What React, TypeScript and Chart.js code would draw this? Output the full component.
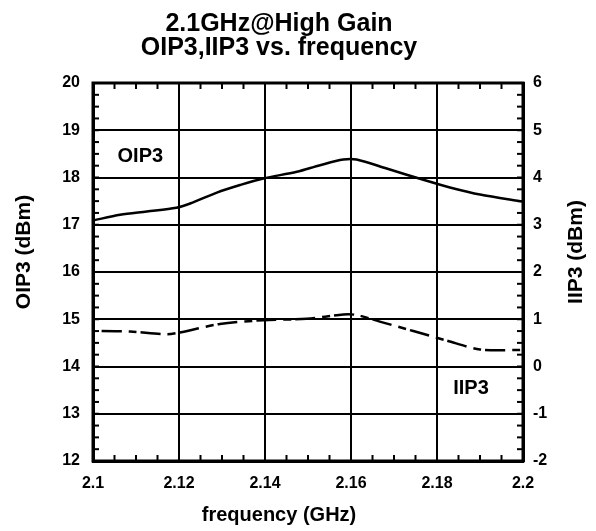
import React, { useEffect, useRef } from "react";
import { Chart, registerables } from "chart.js";

Chart.register(...registerables);

const FONT = "'Liberation Sans', Arial, Helvetica, sans-serif";

const titleLines = ["2.1GHz@High Gain", "OIP3,IIP3 vs. frequency"];
const xAxisTitle = "frequency (GHz)";
const leftAxisTitle = "OIP3 (dBm)";
const rightAxisTitle = "IIP3 (dBm)";

const xTickValues = [2.1, 2.12, 2.14, 2.16, 2.18, 2.2];
const xTickLabels = ["2.1", "2.12", "2.14", "2.16", "2.18", "2.2"];
const leftTickValues = [12, 13, 14, 15, 16, 17, 18, 19, 20];
const rightTickValues = [-2, -1, 0, 1, 2, 3, 4, 5, 6];

const oip3Freq = [2.1, 2.1063, 2.1125, 2.1194, 2.1226, 2.1288, 2.1342, 2.1396, 2.1474, 2.1528, 2.1582, 2.1613, 2.1683, 2.1776, 2.183, 2.19, 2.2];
const oip3Values = [17.09, 17.21, 17.28, 17.36, 17.45, 17.68, 17.84, 17.98, 18.12, 18.26, 18.38, 18.38, 18.19, 17.93, 17.79, 17.64, 17.49];

const iip3Freq = [2.102, 2.1086, 2.1171, 2.1202, 2.1295, 2.1396, 2.1497, 2.1582, 2.1613, 2.1667, 2.1745, 2.1822, 2.19, 2.1993, 2.2];
const iip3Values = [0.75, 0.74, 0.68, 0.72, 0.9, 0.98, 1.01, 1.1, 1.09, 0.95, 0.75, 0.55, 0.36, 0.35, 0.37];

const seriesNames = ["OIP3", "IIP3"];
const seriesLabelFreq = [2.111, 2.1879];
const seriesLabelValue = [18.44, -0.47];

const xMinorStep = 0.005;
const yMinorStep = 0.25;

const decorPlugin = {
  id: "decor",
  afterDraw(chart: any) {
    const { ctx, chartArea: a, scales } = chart;
    const xs = scales.x;
    const yl = scales.y;
    const yr = scales.y1;
    ctx.save();
    ctx.strokeStyle = "#000";
    ctx.lineWidth = 2;
    const tl = 6;
    const nx = Math.round((xs.max - xs.min) / xMinorStep);
    for (let i = 0; i <= nx; i++) {
      const px = xs.getPixelForValue(xs.min + i * xMinorStep);
      ctx.beginPath();
      ctx.moveTo(px, a.bottom);
      ctx.lineTo(px, a.bottom - tl);
      ctx.moveTo(px, a.top);
      ctx.lineTo(px, a.top + tl);
      ctx.stroke();
    }
    const ny = Math.round((yl.max - yl.min) / yMinorStep);
    for (let i = 0; i <= ny; i++) {
      const py = yl.getPixelForValue(yl.min + i * yMinorStep);
      ctx.beginPath();
      ctx.moveTo(a.left, py);
      ctx.lineTo(a.left + tl, py);
      ctx.stroke();
    }
    const nyr = Math.round((yr.max - yr.min) / yMinorStep);
    for (let i = 0; i <= nyr; i++) {
      const py = yr.getPixelForValue(yr.min + i * yMinorStep);
      ctx.beginPath();
      ctx.moveTo(a.right, py);
      ctx.lineTo(a.right - tl, py);
      ctx.stroke();
    }
    ctx.lineWidth = 3;
    ctx.strokeRect(a.left, a.top, a.right - a.left, a.bottom - a.top);

    ctx.fillStyle = "#000";
    ctx.textAlign = "center";
    ctx.textBaseline = "middle";
    ctx.font = `bold 20px ${FONT}`;
    ctx.fillText(seriesNames[0], xs.getPixelForValue(seriesLabelFreq[0]), yl.getPixelForValue(seriesLabelValue[0]));
    ctx.fillText(seriesNames[1], xs.getPixelForValue(seriesLabelFreq[1]), yr.getPixelForValue(seriesLabelValue[1]));

    const tb = chart.titleBlock;
    const cx = tb ? (tb.left + tb.right) / 2 : chart.width / 2;
    ctx.font = `bold 20px ${FONT}`;
    ctx.fillText(xAxisTitle, cx, chart.height - 13);

    const midY = (a.top + a.bottom) / 2 - 20;
    ctx.font = `bold 21px ${FONT}`;
    ctx.save();
    ctx.translate(16, midY);
    ctx.rotate(-Math.PI / 2);
    ctx.fillText(leftAxisTitle, 0, 0);
    ctx.restore();
    ctx.save();
    ctx.translate(568.5, midY);
    ctx.rotate(-Math.PI / 2);
    ctx.fillText(rightAxisTitle, 0, 0);
    ctx.restore();
    ctx.restore();
  },
};

export default function App() {
  const ref = useRef<HTMLCanvasElement | null>(null);
  useEffect(() => {
    if (!ref.current) return;
    const tickFont = { family: FONT, size: 16, weight: "bold" as const };
    const chart = new Chart(ref.current, {
      type: "line",
      data: {
        datasets: [
          {
            label: seriesNames[0],
            data: oip3Freq.map((f, i) => ({ x: f, y: oip3Values[i] })),
            borderColor: "#000",
            borderWidth: 2.5,
            pointRadius: 0,
            tension: 0.3,
            yAxisID: "y",
          },
          {
            label: seriesNames[1],
            data: iip3Freq.map((f, i) => ({ x: f, y: iip3Values[i] })),
            borderColor: "#000",
            borderWidth: 2.5,
            borderDash: [20, 7, 8, 4],
            pointRadius: 0,
            tension: 0.3,
            yAxisID: "y1",
          },
        ],
      },
      options: {
        animation: false,
        responsive: false,
        layout: { padding: { left: 0, right: 38, top: 0, bottom: 0 } },
        plugins: {
          legend: { display: false },
          tooltip: { enabled: false },
          title: {
            display: true,
            text: titleLines,
            color: "#000",
            font: { family: FONT, size: 25, weight: "bold", lineHeight: 0.96 },
            padding: { top: 4, bottom: 23 },
          },
        },
        scales: {
          x: {
            type: "linear",
            position: "bottom",
            min: 2.1,
            max: 2.2,
            afterBuildTicks: (s: any) => {
              s.ticks = xTickValues.map((v) => ({ value: v }));
            },
            afterFit: (s: any) => {
              s.height = 67;
            },
            grid: { color: "#000", lineWidth: 2, drawTicks: false },
            border: { color: "#000", width: 3 },
            ticks: {
              color: "#000",
              font: tickFont,
              padding: 13,
              maxRotation: 0,
              autoSkip: false,
              callback: (_v: any, i: number) => xTickLabels[i],
            },
          },
          y: {
            type: "linear",
            position: "left",
            min: 12,
            max: 20,
            afterBuildTicks: (s: any) => {
              s.ticks = leftTickValues.map((v) => ({ value: v }));
            },
            afterFit: (s: any) => {
              s.width = 85;
            },
            grid: { color: "#000", lineWidth: 2, drawTicks: false },
            border: { color: "#000", width: 3 },
            ticks: { color: "#000", font: tickFont, padding: 13, autoSkip: false, callback: (v: any) => String(v) },
          },
          y1: {
            type: "linear",
            position: "right",
            min: -2,
            max: 6,
            afterBuildTicks: (s: any) => {
              s.ticks = rightTickValues.map((v) => ({ value: v }));
            },
            afterFit: (s: any) => {
              s.width = 27;
            },
            grid: { drawOnChartArea: false, drawTicks: false },
            border: { color: "#000", width: 3 },
            ticks: { color: "#000", font: tickFont, padding: 10, autoSkip: false, callback: (v: any) => String(v) },
          },
        },
      },
      plugins: [decorPlugin],
    });
    return () => chart.destroy();
  }, []);
  return <canvas ref={ref} width={580} height={520} style={{ display: "block" }} />;
}
